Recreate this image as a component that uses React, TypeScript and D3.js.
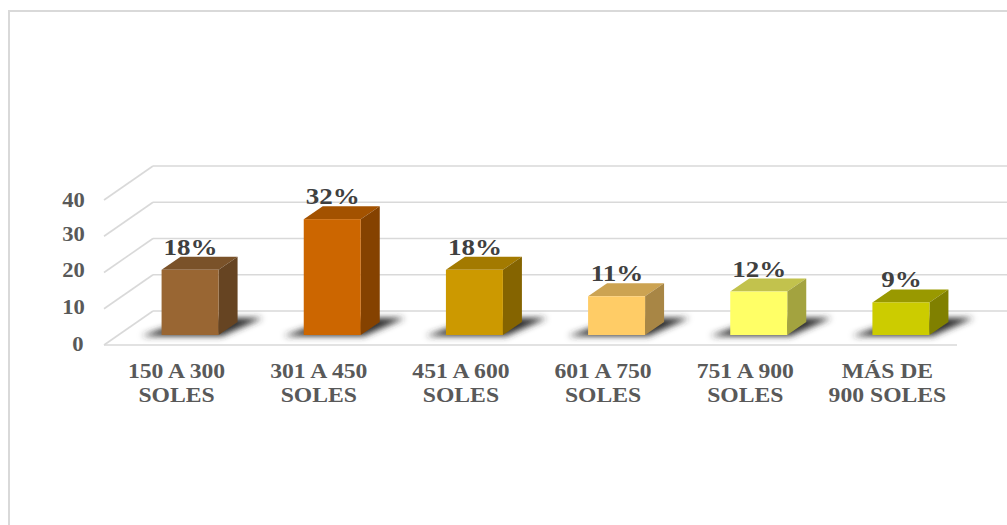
import React from "react";
import * as d3 from "d3";

const categories = [["150 A 300", "SOLES"], ["301 A 450", "SOLES"], ["451 A 600", "SOLES"], ["601 A 750", "SOLES"], ["751 A 900", "SOLES"], ["MÁS DE", "900 SOLES"]];
const values = [18, 32, 18, 10.7, 12, 9];
const labels = ["18%", "32%", "18%", "11%", "12%", "9%"];
const frontColors = ["#996633", "#cc6600", "#cc9900", "#ffcc66", "#ffff66", "#cccc00"];
const topColors = ["#7a5229", "#a35200", "#a37a00", "#cca352", "#c2c24d", "#999900"];
const sideColors = ["#664422", "#854200", "#856400", "#a88645", "#a3a33f", "#808000"];
const ticks = [0, 10, 20, 30, 40];
const tickLabelY = [343, 306, 269, 233, 199];

const FONT = "'Liberation Serif', serif";
const DX = 19, DY = -13, BAR_W = 57, BASE = 335;

export default function App() {
  const x = d3.scaleBand<number>().domain(d3.range(categories.length)).range([104, 957]).paddingInner(0).paddingOuter(0);
  const y = d3.scaleLinear().domain([0, 40]).range([BASE, BASE - 144.8]);
  const gridY = d3.scaleLinear().domain([0, 40]).range([311, 166]);
  const floorDY = -34;
  return (
    <svg width={1007} height={525} style={{ position: "absolute", left: 0, top: 0, background: "#fff" }}>
      <defs>
        <filter id="blur" x="-30%" y="-60%" width="160%" height="220%">
          <feGaussianBlur stdDeviation="3.2" />
        </filter>
      </defs>
      <path d="M9,525V11H1007" fill="none" stroke="#d9d9d9" strokeWidth={2} />
      {ticks.map((t) => (
        <g key={t} fill="none" stroke="#d9d9d9" strokeWidth={1.6}>
          <line x1={153} x2={1007} y1={gridY(t)} y2={gridY(t)} />
          <line x1={153} x2={104} y1={gridY(t)} y2={gridY(t) - floorDY} />
        </g>
      ))}
      <line x1={104} x2={957} y1={345} y2={345} stroke="#d9d9d9" strokeWidth={1.6} />
      {ticks.map((t, i) => (
        <text key={t} transform={`translate(${t === 0 ? 78 : 73.5},${tickLabelY[i] + 8}) scale(1.05,1)`} fontFamily={FONT} fontWeight="bold" fontSize={21.5} fill="#595959" textAnchor="middle">
          {t}
        </text>
      ))}
      {values.map((v, i) => {
        const x0 = x(i)! + x.bandwidth() / 2 - 13.5;
        const x1 = x0 + BAR_W;
        const yt = y(v);
        const pts = (a: number[][]) => a.map((p) => p.join(",")).join(" ");
        return (
          <g key={i}>
            <polygon points={pts([[x0 - 20, BASE + 1], [x1 + 3, BASE + 1], [x1 + 44, BASE - 17], [x0 + 32, BASE - 17]])} fill="#2e2e2e" filter="url(#blur)" />
            <polygon points={pts([[x0, yt], [x0 + DX, yt + DY], [x1 + DX, yt + DY], [x1, yt]])} fill={topColors[i]} />
            <polygon points={pts([[x1, yt], [x1 + DX, yt + DY], [x1 + DX, BASE + DY], [x1, BASE]])} fill={sideColors[i]} />
            <rect x={x0} y={yt} width={BAR_W} height={BASE - yt} fill={frontColors[i]} />
            <text transform={`translate(${x0 + 29},${yt - 15}) scale(1.15,1)`} fontFamily={FONT} fontWeight="bold" fontSize={23.5} fill="#404040" textAnchor="middle">
              {labels[i]}
            </text>
          </g>
        );
      })}
      {categories.map((c, i) => (
        <g key={i}>
          {c.map((line, j) => (
            <text key={j} transform={`translate(${x(i)! + x.bandwidth() / 2 + 1.5},${377.5 + j * 24.5}) scale(1.1,1)`} fontFamily={FONT} fontWeight="bold" fontSize={21.5} fill="#595959" textAnchor="middle">
              {line}
            </text>
          ))}
        </g>
      ))}
    </svg>
  );
}
